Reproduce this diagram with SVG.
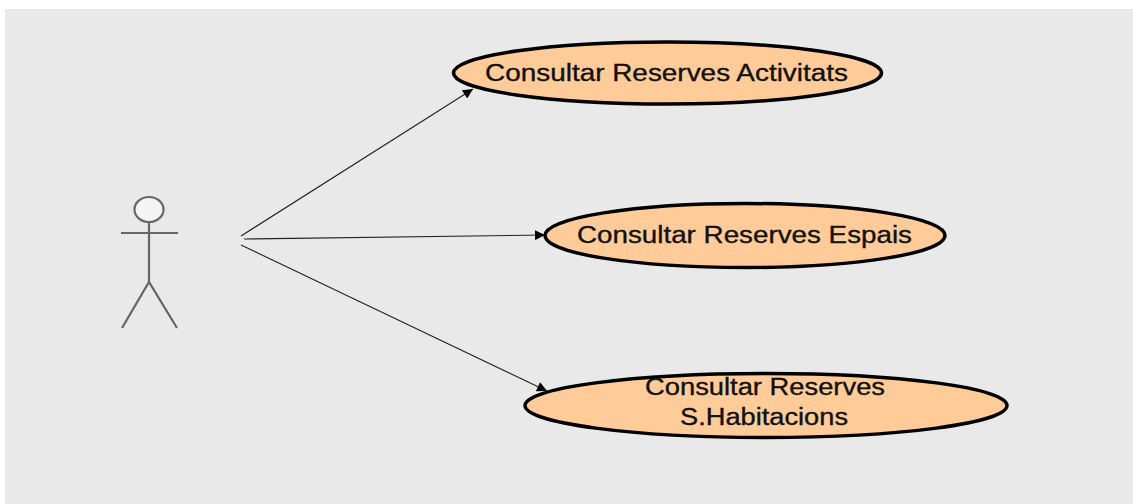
<svg xmlns="http://www.w3.org/2000/svg" width="1133" height="504" viewBox="0 0 1133 504">
  <style>
    .uc { fill: #ffcc99; stroke: #000; stroke-width: 3.5; }
    .lbl { font-family: "Liberation Sans", Arial, sans-serif; font-size: 23.5px; fill: #111; stroke: #111; stroke-width: 0.35; text-anchor: middle; }
    .actor { fill: none; stroke: #666; stroke-width: 2.2; }
    .conn { stroke: #222; stroke-width: 1.1; fill: none; marker-end: url(#arr); }
  </style>
  <defs>
    <marker id="arr" viewBox="0 0 10 10" refX="10" refY="5" markerWidth="12" markerHeight="10" markerUnits="userSpaceOnUse" orient="auto">
      <path d="M0,0 L10,5 L0,10 Z" fill="#000"/>
    </marker>
  </defs>
  <rect x="0" y="0" width="1133" height="504" fill="#ffffff"/>
  <rect x="5" y="9" width="1128" height="495" fill="#e9e9e9"/>

  <g id="actor">
    <ellipse cx="149" cy="209.5" rx="14.5" ry="12.5" fill="#f4f4f4" stroke="#666" stroke-width="2.2"/>
    <line class="actor" x1="121" y1="233" x2="178" y2="233"/>
    <line class="actor" x1="149" y1="222" x2="149" y2="282"/>
    <polyline class="actor" points="122,328 149,282 177,328"/>
  </g>

  <g id="connectors">
    <line class="conn" x1="241" y1="236" x2="473" y2="89"/>
    <line class="conn" x1="244" y1="239" x2="545" y2="235"/>
    <line class="conn" x1="241" y1="245" x2="547" y2="391"/>
  </g>

  <g id="uc1">
    <ellipse class="uc" cx="667.5" cy="73" rx="214" ry="31"/>
    <text class="lbl" x="666.5" y="81" textLength="363" lengthAdjust="spacingAndGlyphs">Consultar Reserves Activitats</text>
  </g>
  <g id="uc2">
    <ellipse class="uc" cx="745" cy="235.5" rx="200" ry="32"/>
    <text class="lbl" x="744.5" y="243" textLength="335" lengthAdjust="spacingAndGlyphs">Consultar Reserves Espais</text>
  </g>
  <g id="uc3">
    <ellipse class="uc" cx="766" cy="405.5" rx="241" ry="32"/>
    <text class="lbl" x="765" y="395" textLength="240" lengthAdjust="spacingAndGlyphs">Consultar Reserves</text>
    <text class="lbl" x="764" y="425" textLength="168" lengthAdjust="spacingAndGlyphs">S.Habitacions</text>
  </g>
</svg>
